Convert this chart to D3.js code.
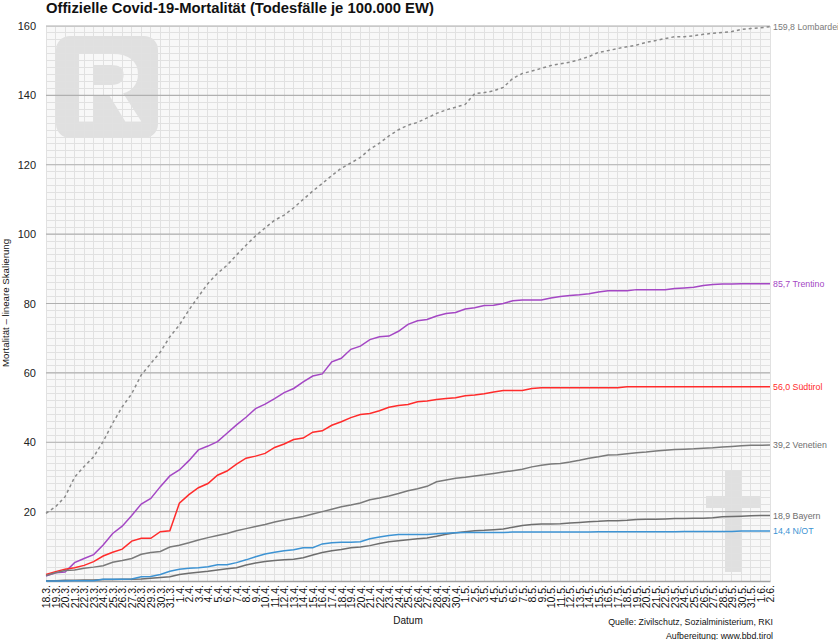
<!DOCTYPE html>
<html><head><meta charset="utf-8">
<script src="https://cdn.jsdelivr.net/npm/d3@7"></script>
<style>
html,body{margin:0;padding:0;background:#fff;}
svg{display:block;font-family:Helvetica, Arial, "Liberation Sans", sans-serif;}
</style></head>
<body>
<svg id="c" width="838" height="640"></svg>
<script>
const dates = ["18.3.","19.3.","20.3.","21.3.","22.3.","23.3.","24.3.","25.3.","26.3.","27.3.","28.3.","29.3.","30.3.","31.3.",
"1.4.","2.4.","3.4.","4.4.","5.4.","6.4.","7.4.","8.4.","9.4.","10.4.","11.4.","12.4.","13.4.","14.4.","15.4.","16.4.","17.4.","18.4.","19.4.","20.4.","21.4.","22.4.","23.4.","24.4.","25.4.","26.4.","27.4.","28.4.","29.4.","30.4.",
"1.5.","2.5.","3.5.","4.5.","5.5.","6.5.","7.5.","8.5.","9.5.","10.5.","11.5.","12.5.","13.5.","14.5.","15.5.","16.5.","17.5.","18.5.","19.5.","20.5.","21.5.","22.5.","23.5.","24.5.","25.5.","26.5.","27.5.","28.5.","29.5.","30.5.","31.5.",
"1.6.","2.6."];
const yTicks = [20,40,60,80,100,120,140,160];

const lombardei = [19.5,21.4,24.3,29.9,33,35.8,40.2,45.5,50.2,54,59.4,62.7,66,70.4,73.8,78.1,82,85.8,88.7,91,94,96.8,99.5,101.8,104,105.5,107.6,110,112.4,114.6,116.9,119,120.5,122.1,124.5,126.2,128.3,130.1,131.4,132.2,133.5,134.8,135.8,136.6,137.4,140.5,140.8,141.3,142.3,144.9,146.3,147,147.8,148.6,149.1,149.6,150.3,151.2,152.4,152.9,153.5,154,154.5,155.3,155.8,156.4,156.9,156.9,157.2,157.6,157.9,158.1,158.4,159,159.3,159.5,159.8];
const trentino = [1.4,2.4,2.6,5.3,6.5,7.6,10.4,13.7,15.8,18.9,22.2,23.8,27.2,30.3,32,34.7,37.8,38.9,40.2,42.6,45,47.2,49.7,51,52.6,54.3,55.5,57.4,59.1,59.7,63.2,64.2,66.8,67.7,69.6,70.4,70.6,72,74,75,75.4,76.4,77.1,77.4,78.4,78.8,79.4,79.5,80,80.8,81,81,81,81.6,82,82.3,82.5,82.8,83.3,83.7,83.7,83.7,84,84,84,84,84.3,84.5,84.7,85.2,85.5,85.6,85.6,85.7,85.7,85.7,85.7];
const suedtirol = [1.9,2.7,3.4,3.8,4.5,5.6,7.2,8.3,9.2,11.5,12.3,12.3,14.2,14.5,22.4,24.9,26.9,28.1,30.5,31.7,33.7,35.4,36,36.8,38.5,39.5,40.8,41.2,42.9,43.3,44.9,45.9,47.1,48,48.3,49.1,50.1,50.6,50.9,51.7,51.9,52.3,52.6,52.8,53.4,53.6,54,54.5,54.9,54.9,54.9,55.5,55.7,55.7,55.7,55.7,55.7,55.7,55.7,55.7,55.7,56,56,56,56,56,56,56,56,56,56,56,56,56,56,56,56];
const venetien = [1.6,2.4,3.0,3.2,3.7,4.0,4.4,5.4,5.9,6.5,7.7,8.2,8.5,9.8,10.3,11,11.8,12.5,13.1,13.7,14.5,15.1,15.7,16.3,17,17.6,18.1,18.6,19.3,20,20.7,21.4,21.9,22.5,23.4,23.9,24.5,25.2,26,26.6,27.3,28.6,29.1,29.6,29.9,30.3,30.6,31,31.4,31.8,32.2,32.9,33.4,33.7,33.9,34.3,34.8,35.4,35.8,36.3,36.4,36.7,37,37.2,37.5,37.7,37.9,38,38.1,38.3,38.4,38.6,38.8,39,39.1,39.1,39.2];
const bayern = [0.1,0.1,0.2,0.2,0.3,0.3,0.4,0.4,0.5,0.5,0.6,0.8,1.0,1.2,1.9,2.2,2.5,2.8,3.2,3.5,3.8,4.6,5.2,5.6,5.9,6.1,6.3,6.7,7.5,8.2,8.7,9.1,9.6,9.8,10.2,10.8,11.3,11.6,11.9,12.2,12.4,12.9,13.5,13.9,14.2,14.5,14.6,14.8,15,15.5,16,16.3,16.4,16.4,16.5,16.7,16.9,17.1,17.2,17.4,17.4,17.5,17.7,17.8,17.8,17.9,18,18,18.1,18.1,18.2,18.5,18.6,18.7,18.8,18.9,18.9];
const nordost = [0,0,0,0.1,0.1,0.1,0.5,0.5,0.5,0.6,1.2,1.3,1.9,2.8,3.4,3.7,3.8,4.1,4.7,4.7,5.3,6.1,7.0,7.8,8.3,8.7,9.0,9.6,9.6,10.7,11,11.2,11.2,11.3,12.2,12.7,13.1,13.4,13.4,13.4,13.4,13.6,13.8,13.9,14,14,14,14,14,14.1,14.1,14.1,14.1,14.1,14.1,14.1,14.1,14.1,14.2,14.2,14.2,14.2,14.2,14.2,14.2,14.2,14.2,14.3,14.3,14.3,14.3,14.3,14.3,14.4,14.4,14.4,14.4];

const seriesNames = ["Lombardei","Trentino","Südtirol","Venetien","Bayern","N/OT"];
const seriesData = [lombardei, trentino, suedtirol, venetien, bayern, nordost];
const seriesColors = ["#8a8a8a","#a447c4","#ff2b2b","#7a7a7a","#6e6e6e","#3d93d3"];
const labelColors = ["#7a7a7a","#a447c4","#ff2b2b","#6e6e6e","#6e6e6e","#3d93d3"];
const endLabels = ["159,8","85,7","56,0","39,2","18,9","14,4"];

(function(){
const svg = d3.select("#c");
const pL = 46, pR = 770, pT = 26, pB = 581;
const x = d3.scalePoint().domain(dates).range([pL, pR]);
const y = d3.scaleLinear().domain([0,160]).range([pB, pT]);
const FF = "Helvetica, Arial, 'Liberation Sans', sans-serif";

svg.append("rect").attr("x",pL).attr("y",pT).attr("width",pR-pL).attr("height",pB-pT).attr("fill","#f8f8f8");

const wm = svg.append("g");
wm.append("rect").attr("x",56).attr("y",36).attr("width",102).attr("height",102).attr("rx",14).attr("fill","#e0e0e0");
wm.append("text").attr("x",108).attr("y",122).attr("text-anchor","middle").attr("font-size",98).attr("font-weight","bold").attr("fill","#f8f8f8").text("R");
wm.append("rect").attr("x",725).attr("y",470).attr("width",16).attr("height",102).attr("fill","#e0e0e0");
wm.append("rect").attr("x",706).attr("y",496).attr("width",55).attr("height",12).attr("fill","#e0e0e0");

const g = svg.append("g");
g.selectAll("line.vx").data(dates).join("line").attr("class","vx")
  .attr("x1",d=>x(d)).attr("x2",d=>x(d)).attr("y1",pT).attr("y2",pB)
  .attr("stroke","#e1e1e1").attr("stroke-width",1).attr("shape-rendering","crispEdges");
g.selectAll("line.hy").data(d3.range(0,161,2)).join("line").attr("class","hy")
  .attr("x1",pL).attr("x2",pR).attr("y1",d=>y(d)).attr("y2",d=>y(d))
  .attr("stroke","#e1e1e1").attr("stroke-width",1).attr("shape-rendering","crispEdges");
g.selectAll("line.maj").data(yTicks).join("line").attr("class","maj")
  .attr("x1",pL).attr("x2",pR).attr("y1",d=>y(d)).attr("y2",d=>y(d))
  .attr("stroke","#b0b0b0").attr("stroke-width",1.2);

const yAxis = d3.axisLeft(y).tickValues(yTicks).tickSize(0).tickPadding(10);
const ya = svg.append("g").attr("transform",`translate(${pL},0)`).call(yAxis);
ya.select(".domain").remove();
ya.selectAll("text").attr("font-size",11).attr("fill","#222").attr("font-family",FF);

const xAxis = d3.axisBottom(x).tickSize(0).tickPadding(3);
const xa = svg.append("g").attr("transform",`translate(0,${pB})`).call(xAxis);
xa.select(".domain").attr("stroke","#a0a0a0").attr("stroke-width",1.5);
xa.selectAll("text").attr("font-size",10.5).attr("fill","#111").attr("font-family",FF)
  .attr("text-anchor","end").attr("transform","rotate(-90)")
  .attr("x",-4).attr("y",0).attr("dy","0.35em");

const line = d3.line().x((d,i)=>x(dates[i])).y(d=>y(d));
seriesData.forEach((s,k)=>{
  svg.append("path").datum(s).attr("d",line).attr("fill","none")
    .attr("stroke",seriesColors[k]).attr("stroke-width",1.5)
    .attr("stroke-dasharray", k===0 ? "3,3" : null);
  svg.append("text").attr("x",pR+3).attr("y",y(s[s.length-1])).attr("dy","0.35em")
    .attr("font-size",8.8).attr("fill",labelColors[k]).text(endLabels[k]+" "+seriesNames[k]);
});

svg.append("text").attr("x",46).attr("y",13).attr("font-size",14.8).attr("font-weight","bold").attr("fill","#111")
  .text("Offizielle Covid-19-Mortalität (Todesfälle je 100.000 EW)");
svg.append("text").attr("transform","translate(9,303) rotate(-90)").attr("text-anchor","middle").attr("font-size",9.7).attr("fill","#111")
  .text("Mortalität – lineare Skalierung");
svg.append("text").attr("x",408).attr("y",624).attr("text-anchor","middle").attr("font-size",10).attr("fill","#111").text("Datum");
svg.append("text").attr("x",773).attr("y",625).attr("text-anchor","end").attr("font-size",8.8).attr("fill","#111").text("Quelle: Zivilschutz, Sozialministerium, RKI");
svg.append("text").attr("x",773).attr("y",639).attr("text-anchor","end").attr("font-size",8.8).attr("fill","#111").text("Aufbereitung: www.bbd.tirol");
})();
</script>
</body></html>
